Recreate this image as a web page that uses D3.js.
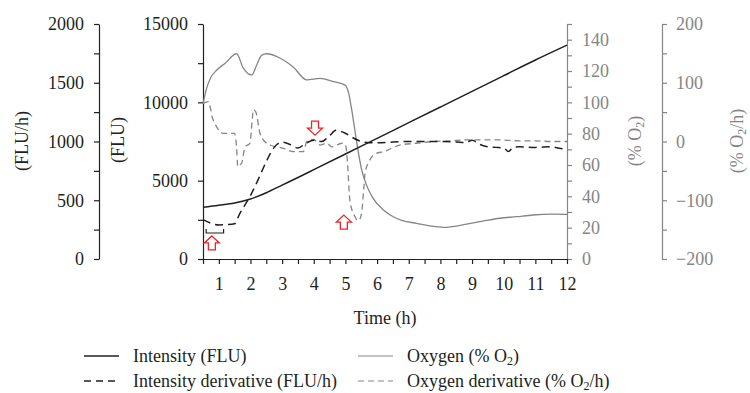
<!DOCTYPE html>
<html>
<head>
<meta charset="utf-8">
<script src="https://cdn.jsdelivr.net/npm/d3@7"></script>
<style>
  body { margin: 0; background: #fff; }
  text { font-family: "Liberation Serif", "DejaVu Serif", serif; }
</style>
</head>
<body>
<svg id="drawing_region"></svg>
<script>
// Intensity (FLU)
const intensityTime = [0.5, 1, 1.5, 2, 2.5, 3, 3.5, 4, 5, 6, 7, 8, 9, 10, 11, 12];
const intensity = [3300, 3430, 3580, 3830, 4230, 4720, 5200, 5700, 6700, 7700, 8700, 9700, 10700, 11700, 12700, 13650];

// Intensity derivative (FLU/h)
const derivTime = [0.5, 0.75, 1, 1.25, 1.5, 1.65, 2, 2.25, 2.5, 2.75, 3, 3.25, 3.5, 3.75, 4, 4.25, 4.5, 4.7, 5, 5.25, 5.5, 5.75, 6, 6.5, 7, 7.5, 8, 8.5, 8.8, 9, 9.25, 9.5, 9.75, 10, 10.15, 10.3, 10.5, 11, 11.5, 11.8, 12];
const deriv = [335, 305, 290, 292, 300, 380, 540, 680, 830, 950, 995, 975, 945, 985, 1010, 1000, 1050, 1095, 1070, 1030, 1000, 990, 990, 995, 1000, 1000, 1000, 995, 990, 1010, 975, 955, 950, 945, 915, 950, 955, 950, 955, 940, 935];

// Oxygen (% O2)
const o2Time = [0.5, 0.6, 0.75, 0.93, 1.2, 1.56, 1.77, 2.04, 2.2, 2.35, 2.51, 2.8, 3.04, 3.35, 3.78, 4.2, 4.62, 4.99, 5.1, 5.2, 5.36, 5.5, 5.67, 5.85, 6.2, 6.51, 6.8, 7.25, 7.7, 8.09, 8.5, 8.83, 9.3, 9.88, 10.4, 10.93, 11.5, 12];
const o2 = [99, 108, 116, 120.5, 125, 131, 122, 117.5, 124, 130, 131, 129.5, 127, 122.5, 114.3, 115.3, 113.2, 111, 106, 95, 74, 58, 47, 39.5, 31.3, 27, 24.5, 22.8, 21, 20.2, 21, 22.3, 24, 26, 27, 28.1, 28.6, 28.5];

// Oxygen derivative (% O2/h)
const o2dTime = [0.5, 0.67, 0.8, 0.93, 1.14, 1.5, 1.56, 1.6, 1.66, 1.72, 1.83, 1.98, 2.06, 2.09, 2.17, 2.3, 2.45, 2.62, 3.04, 3.35, 3.67, 3.78, 3.99, 4.2, 4.41, 4.57, 4.89, 5.0, 5.07, 5.14, 5.3, 5.41, 5.51, 5.58, 5.62, 5.72, 5.98, 6.2, 6.72, 7.25, 7.78, 8.3, 8.83, 9.4, 9.88, 10.5, 11, 11.5, 12];
const o2d = [65, 68, 40, 25, 14, 14, -10, -43, -40, -37, -9, -3, 40, 54, 50, 14, 0, -6, -11.6, -17.4, -17.4, 0, 3.7, -6, -3, -9, -3, -5, -40, -100, -128, -135, -122, -80, -54, -37, -20, -17.4, -6, -3, 0, 1, 2.6, 2.6, 2.6, 1, 1, 0, 0];

// red arrows: time, top of arrow in FLU units, direction
const arrowTime = [0.78, 4.04, 4.95];
const arrowTop = [1470, 8800, 2800];
const arrowDir = ['up', 'down', 'up'];

const black = '#231f20';
const grey = '#858585';

const svg = d3.select('#drawing_region')
    .attr('width', 750)
    .attr('height', 393);

const xscale = d3.scaleLinear().domain([0.5, 12]).range([203, 567]);
const yFlu = d3.scaleLinear().domain([0, 15000]).range([259, 24]);
const yFluH = d3.scaleLinear().domain([0, 2000]).range([259, 24]);
const yO2 = d3.scaleLinear().domain([0, 150]).range([259, 24]);
const yO2d = d3.scaleLinear().domain([-200, 200]).range([259, 24]);

const fmt = d => d < 0 ? '\u2212' + Math.abs(d) : String(d);

function styleAxis(g, color) {
    g.selectAll('path, line').attr('stroke', color).attr('stroke-width', 1.2);
    g.selectAll('text').attr('fill', color).attr('font-size', 18)
        .attr('font-family', '"Liberation Serif", serif');
}

// left axis (FLU/h)
svg.append('g')
    .attr('transform', 'translate(99,0)')
    .call(d3.axisLeft(yFluH).tickValues(d3.range(0, 2001, 250))
        .tickFormat(d => d % 500 === 0 ? fmt(d) : '').tickSize(5).tickSizeOuter(0).tickPadding(10))
    .call(g => styleAxis(g, black));

// FLU axis
svg.append('g')
    .attr('transform', 'translate(203,0)')
    .call(d3.axisLeft(yFlu).tickValues(d3.range(0, 15001, 2500))
        .tickFormat(d => d % 5000 === 0 ? fmt(d) : '').tickSize(5).tickSizeOuter(0).tickPadding(10))
    .call(g => styleAxis(g, black));

// O2 axis
svg.append('g')
    .attr('transform', 'translate(567,0)')
    .call(d3.axisRight(yO2).tickValues(d3.range(0, 151, 10))
        .tickFormat(d => d % 20 === 0 && d < 150 ? fmt(d) : '').tickSize(5).tickSizeOuter(0).tickPadding(10))
    .call(g => styleAxis(g, grey));

// O2/h axis
svg.append('g')
    .attr('transform', 'translate(662,0)')
    .call(d3.axisRight(yO2d).tickValues(d3.range(-200, 201, 50))
        .tickFormat(d => d % 100 === 0 ? fmt(d) : '').tickSize(5).tickSizeOuter(0).tickPadding(9))
    .call(g => styleAxis(g, grey));

// time axis
svg.append('g')
    .attr('transform', 'translate(0,259)')
    .call(d3.axisBottom(xscale).tickValues(d3.range(0.5, 12.01, 0.5))
        .tickFormat(d => Number.isInteger(d) ? fmt(d) : '').tickSize(5).tickSizeOuter(0).tickPadding(13))
    .call(g => styleAxis(g, black));

// text with subscripts: parts = [[text, isSub]]
function sub(sel, parts) {
    let shifted = false;
    parts.forEach(p => {
        const t = sel.append('tspan').text(p[0]);
        if (p[1]) { t.attr('font-size', 12).attr('dy', 3); shifted = true; }
        else if (shifted) { t.attr('dy', -3); shifted = false; }
    });
}
svg.append('text').attr('transform', 'translate(28,141) rotate(-90)')
    .attr('text-anchor', 'middle').attr('font-size', 18).attr('fill', black).text('(FLU/h)');
svg.append('text').attr('transform', 'translate(124,140) rotate(-90)')
    .attr('text-anchor', 'middle').attr('font-size', 18).attr('fill', black).text('(FLU)');
svg.append('text').attr('transform', 'translate(641,141) rotate(-90)')
    .attr('text-anchor', 'middle').attr('font-size', 18).attr('fill', grey)
    .call(s => sub(s, [['(% O'], ['2', true], [')']]));
svg.append('text').attr('transform', 'translate(743,141) rotate(-90)')
    .attr('text-anchor', 'middle').attr('font-size', 18).attr('fill', grey)
    .call(s => sub(s, [['(% O'], ['2', true], ['/h)']]));
svg.append('text').attr('x', 385).attr('y', 324)
    .attr('text-anchor', 'middle').attr('font-size', 18).attr('fill', black).text('Time (h)');

// lines
const curve = d3.curveMonotoneX;
function drawLine(times, vals, yscale, color, width, dash) {
    const line = d3.line().x(d => xscale(d[0])).y(d => yscale(d[1])).curve(curve);
    svg.append('path')
        .datum(times.map((t, i) => [t, vals[i]]))
        .attr('d', line)
        .attr('fill', 'none')
        .attr('stroke', color)
        .attr('stroke-width', width)
        .attr('stroke-dasharray', dash);
}
drawLine(o2Time, o2, yO2, grey, 1.3, null);
drawLine(o2dTime, o2d, yO2d, grey, 1.3, '6,4');
drawLine(derivTime, deriv, yFluH, black, 1.5, '8,5');
drawLine(intensityTime, intensity, yFlu, black, 1.5, null);

// bracket near start
const bx0 = xscale(0.6), bx1 = xscale(1.15), by = yFlu(1660);
svg.append('path')
    .attr('d', `M${bx0},${by - 4}V${by}H${bx1}V${by - 4}`)
    .attr('fill', 'none').attr('stroke', black).attr('stroke-width', 1.2);

// red arrows
arrowTime.forEach((t, i) => {
    const cx = xscale(t), top = yFlu(arrowTop[i]);
    const w = 7.5, s = 3.5, h = 14, hh = 7;
    let p;
    if (arrowDir[i] === 'up') {
        p = `M${cx},${top}L${cx + w},${top + hh}H${cx + s}V${top + h}H${cx - s}V${top + hh}H${cx - w}Z`;
    } else {
        p = `M${cx},${top + h}L${cx + w},${top + h - hh}H${cx + s}V${top}H${cx - s}V${top + h - hh}H${cx - w}Z`;
    }
    svg.append('path').attr('d', p).attr('fill', '#fff')
        .attr('stroke', '#e8262d').attr('stroke-width', 1.3);
});

// legend
const legendItems = [
    {label: [['Intensity (FLU)']], color: black, dash: null, x: 84, y: 356},
    {label: [['Intensity derivative (FLU/h)']], color: black, dash: '7,5', x: 84, y: 381},
    {label: [['Oxygen (% O'], ['2', true], [')']], color: grey, dash: null, x: 358, y: 356},
    {label: [['Oxygen derivative (% O'], ['2', true], ['/h)']], color: grey, dash: '6,4', x: 358, y: 381}
];
legendItems.forEach(d => {
    svg.append('line')
        .attr('x1', d.x).attr('x2', d.x + 35)
        .attr('y1', d.y).attr('y2', d.y)
        .attr('stroke', d.color).attr('stroke-width', d.color === black ? 1.5 : 1.2)
        .attr('stroke-dasharray', d.dash);
    svg.append('text')
        .attr('x', d.x + 49).attr('y', d.y + 6)
        .attr('font-size', 18).attr('fill', black)
        .call(s => sub(s, d.label));
});
</script>
</body>
</html>
